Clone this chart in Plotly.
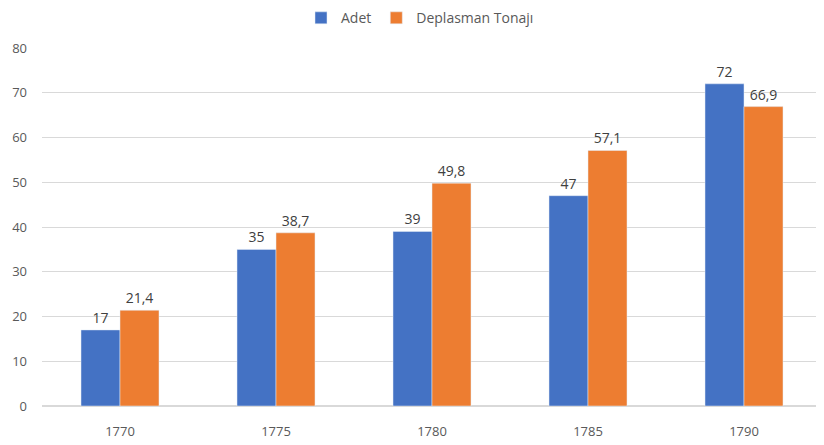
import plotly.graph_objects as go

years = ['1770', '1775', '1780', '1785', '1790']
adet = [17, 35, 39, 47, 72]
tonaj = [21.4, 38.7, 49.8, 57.1, 66.9]
adet_labels = ['17', '35', '39', '47', '72']
tonaj_labels = ['21,4', '38,7', '49,8', '57,1', '66,9']

font = dict(family='Open Sans, sans-serif', size=13, color='#595959')

fig = go.Figure()
fig.add_trace(go.Bar(x=years, y=adet, name='Adet', marker_color='#4472C4',
                     text=adet_labels, textposition='outside', cliponaxis=False,
                     textfont=dict(size=14, color='#404040')))
fig.add_trace(go.Bar(x=years, y=tonaj, name='Deplasman Tonajı', marker_color='#ED7D31',
                     text=tonaj_labels, textposition='outside', cliponaxis=False,
                     textfont=dict(size=14, color='#404040')))

# page body has 8px margin, so margins are shifted accordingly
fig.update_layout(
    width=824, height=445,
    barmode='group', bargap=0.5, bargroupgap=0,
    plot_bgcolor='white', paper_bgcolor='white',
    font=font,
    margin=dict(l=34, r=10, t=40, b=47),
    legend=dict(orientation='h', xref='container', yref='container',
                x=0.5, xanchor='center', y=0.977, yanchor='middle',
                itemwidth=30, font=dict(size=14, color='#595959')),
    showlegend=True,
)
fig.update_yaxes(range=[0, 80], dtick=10, showgrid=True, gridcolor='#D9D9D9',
                 zeroline=True, zerolinecolor='#D9D9D9', ticks='', ticklabelstandoff=14,
                 automargin=False)
fig.update_xaxes(showline=True, linecolor='#D9D9D9', ticks='', ticklabelstandoff=13,
                 automargin=False)

fig.write_html("out.html")
